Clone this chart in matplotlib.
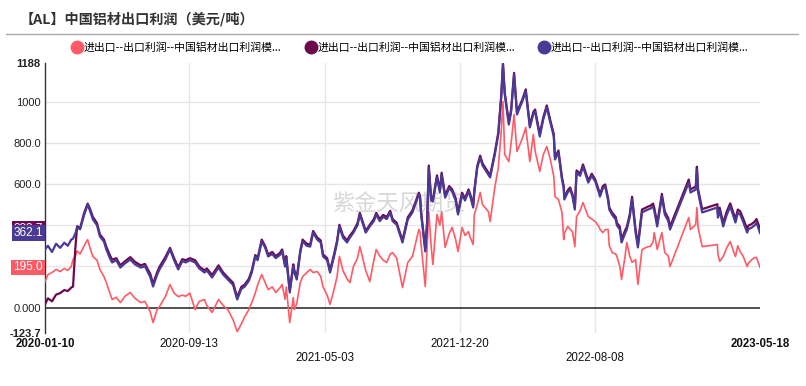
import matplotlib
matplotlib.use('Agg')
import matplotlib.pyplot as plt
from matplotlib.lines import Line2D
from datetime import datetime

plt.rcParams['font.family'] = ['Liberation Sans', 'Noto Sans CJK SC', 'DejaVu Sans']

# dates of the sampled points
dates = [
    '2020-01-10', '2020-01-15', '2020-01-22', '2020-01-29', '2020-02-05', '2020-02-12', '2020-02-18', '2020-02-24',
    '2020-02-27', '2020-03-02', '2020-03-05', '2020-03-10', '2020-03-17', '2020-03-23', '2020-03-27', '2020-04-01',
    '2020-04-08', '2020-04-13', '2020-04-20', '2020-04-24', '2020-04-30', '2020-05-04', '2020-05-11', '2020-05-18',
    '2020-05-26', '2020-06-04', '2020-06-12', '2020-06-22', '2020-06-29', '2020-07-08', '2020-07-13', '2020-07-20',
    '2020-07-24', '2020-08-03', '2020-08-11', '2020-08-18', '2020-08-25', '2020-09-01', '2020-09-07', '2020-09-14',
    '2020-09-23', '2020-09-30', '2020-10-09', '2020-10-13', '2020-10-22', '2020-11-02', '2020-11-10', '2020-11-18',
    '2020-11-27', '2020-12-04', '2020-12-11', '2020-12-17', '2020-12-24', '2020-12-29', '2021-01-04', '2021-01-08',
    '2021-01-15', '2021-01-21', '2021-01-26', '2021-02-02', '2021-02-08', '2021-02-15', '2021-02-19', '2021-02-24',
    '2021-02-26', '2021-03-04', '2021-03-10', '2021-03-12', '2021-03-16', '2021-03-22', '2021-03-26', '2021-04-02',
    '2021-04-08', '2021-04-13', '2021-04-20', '2021-04-26', '2021-04-30', '2021-05-07', '2021-05-12', '2021-05-19',
    '2021-05-24', '2021-05-28', '2021-06-03', '2021-06-10', '2021-06-15', '2021-06-21', '2021-06-28', '2021-07-02',
    '2021-07-12', '2021-07-19', '2021-07-26', '2021-07-30', '2021-08-05', '2021-08-11', '2021-08-17', '2021-08-23',
    '2021-08-27', '2021-09-03', '2021-09-13', '2021-09-22', '2021-09-30', '2021-10-11', '2021-10-13', '2021-10-15',
    '2021-10-22', '2021-10-25', '2021-10-28', '2021-11-01', '2021-11-04', '2021-11-11', '2021-11-16', '2021-11-19',
    '2021-11-25', '2021-12-02', '2021-12-07', '2021-12-13', '2021-12-17', '2021-12-24', '2021-12-29', '2022-01-04',
    '2022-01-07', '2022-01-12', '2022-01-14', '2022-01-19', '2022-01-24', '2022-01-28', '2022-02-07', '2022-02-10',
    '2022-02-15', '2022-02-18', '2022-02-24', '2022-03-01', '2022-03-04', '2022-03-07', '2022-03-14', '2022-03-18',
    '2022-03-23', '2022-03-28', '2022-04-06', '2022-04-12', '2022-04-19', '2022-04-25', '2022-04-28', '2022-05-06',
    '2022-05-12', '2022-05-18', '2022-05-24', '2022-05-30', '2022-06-01', '2022-06-07', '2022-06-13', '2022-06-16',
    '2022-06-17', '2022-06-23', '2022-06-27', '2022-07-01', '2022-07-05', '2022-07-08', '2022-07-14', '2022-07-19',
    '2022-07-28', '2022-08-03', '2022-08-09', '2022-08-15', '2022-08-17', '2022-08-22', '2022-08-26', '2022-08-31',
    '2022-09-02', '2022-09-07', '2022-09-13', '2022-09-15', '2022-09-20', '2022-09-23', '2022-09-29', '2022-10-02',
    '2022-10-07', '2022-10-11', '2022-10-17', '2022-10-21', '2022-10-28', '2022-11-07', '2022-11-11', '2022-11-16',
    '2022-11-18', '2022-11-23', '2022-12-01', '2022-12-06', '2022-12-12', '2022-12-15', '2023-01-16', '2023-01-19',
    '2023-01-28', '2023-01-30', '2023-02-01', '2023-02-08', '2023-03-06', '2023-03-07', '2023-03-10', '2023-03-16',
    '2023-03-22', '2023-03-28', '2023-04-03', '2023-04-06', '2023-04-10', '2023-04-14', '2023-04-19', '2023-04-26',
    '2023-04-28', '2023-05-04', '2023-05-09', '2023-05-12', '2023-05-18',
]

# series 3 (purple)
profit_c = [
    282, 300, 270, 310, 290, 315, 300, 330, 335, 360, 389, 380, 450, 500, 470, 428,
    400, 345, 320, 282, 240, 219, 230, 194, 215, 233, 210, 194, 200, 150, 102, 160,
    185, 233, 282, 230, 185, 225, 219, 230, 219, 190, 170, 180, 146, 194, 160, 136,
    110, 39, 90, 102, 130, 170, 248, 230, 321, 290, 248, 260, 240, 255, 272, 199,
    240, 73, 199, 170, 136, 267, 321, 300, 296, 364, 330, 316, 248, 230, 170, 250,
    316, 394, 340, 316, 340, 364, 400, 452, 364, 394, 420, 452, 420, 440, 430, 462,
    420, 403, 316, 428, 462, 549, 534, 450, 272, 400, 680, 520, 515, 632, 560, 646,
    534, 580, 564, 520, 452, 549, 520, 564, 540, 486, 560, 680, 729, 690, 646, 632,
    700, 743, 841, 1020, 1188, 1035, 889, 952, 1132, 938, 1001, 1050, 875, 940, 952, 831,
    914, 972, 900, 831, 719, 753, 622, 580, 525, 560, 573, 540, 476, 656, 640, 685,
    607, 640, 612, 560, 539, 580, 588, 520, 476, 450, 428, 400, 379, 316, 360, 379,
    440, 525, 364, 292, 462, 476, 480, 491, 470, 394, 539, 452, 420, 379, 607, 559,
    573, 671, 560, 462, 486, 437, 470, 394, 450, 491, 440, 413, 460, 452, 418, 364,
    380, 389, 400, 413, 362.1,
]

# series 2 (maroon)
profit_b = [
    15, 45, 30, 63, 70, 85, 80, 97, 102, 290, 395, 385, 460, 505, 480, 440,
    410, 355, 330, 295, 255, 232, 240, 205, 225, 245, 222, 205, 212, 165, 115, 172,
    198, 245, 290, 240, 195, 235, 230, 240, 230, 200, 180, 190, 158, 205, 170, 146,
    120, 50, 100, 112, 140, 180, 255, 240, 330, 298, 258, 270, 250, 265, 282, 210,
    250, 85, 210, 180, 146, 275, 330, 310, 306, 372, 340, 326, 258, 240, 180, 260,
    325, 402, 350, 326, 350, 372, 410, 460, 372, 402, 430, 460, 430, 450, 440, 470,
    430, 412, 326, 438, 472, 558, 543, 460, 285, 410, 690, 530, 525, 642, 570, 655,
    545, 590, 574, 530, 462, 558, 530, 574, 550, 496, 570, 688, 738, 700, 656, 642,
    710, 752, 850, 1030, 1180, 1045, 900, 962, 1140, 948, 1010, 1060, 885, 950, 962, 842,
    924, 982, 910, 842, 730, 763, 632, 590, 535, 570, 583, 550, 486, 666, 650, 695,
    617, 650, 622, 570, 549, 590, 598, 530, 486, 460, 440, 412, 392, 330, 374, 392,
    452, 538, 378, 306, 476, 490, 494, 505, 484, 408, 552, 466, 434, 393, 622, 574,
    588, 684, 575, 478, 502, 452, 485, 410, 466, 506, 456, 430, 476, 468, 434, 382,
    398, 406, 418, 430, 383.7,
]

# series 1 (red)
profit_a = [
    126, 160, 170, 185, 175, 190, 180, 200, 233, 250, 275, 260, 300, 330, 290, 248,
    230, 185, 150, 121, 70, 39, 50, 24, 55, 73, 45, 24, 30, -20, -73, -10,
    5, 53, 112, 70, 53, 60, 55, 70, -10, 30, 39, 10, -24, 39, 10, -10,
    -60, -117, -80, -44, -10, 24, 70, 110, 160, 120, 87, 100, 73, 95, 112, 40,
    100, -73, 49, -10, 20, 121, 150, 170, 185, 170, 175, 151, 100, 60, 15, 90,
    151, 248, 180, 140, 121, 200, 240, 296, 180, 126, 230, 282, 250, 230, 219, 260,
    267, 240, 97, 219, 248, 379, 369, 300, 102, 280, 466, 300, 209, 452, 400, 466,
    292, 360, 389, 330, 272, 389, 350, 369, 340, 306, 452, 500, 559, 500, 466, 418,
    520, 583, 680, 855, 1001, 743, 709, 800, 938, 758, 820, 875, 709, 841, 760, 661,
    743, 782, 720, 637, 539, 525, 462, 330, 360, 394, 380, 369, 296, 442, 470, 510,
    442, 430, 418, 394, 380, 364, 379, 379, 300, 267, 260, 248, 200, 136, 250, 316,
    250, 219, 233, 112, 282, 296, 296, 320, 364, 282, 364, 267, 250, 199, 437, 379,
    403, 486, 389, 296, 306, 260, 224, 248, 290, 321, 270, 248, 300, 272, 250, 199,
    215, 233, 243, 243, 195.0,
]

series_name = '进出口--出口利润--中国铝材出口利润模...'
colors = ['#ff5b66', '#6d0a4f', '#4a3a96']
badge_text = ['195.0', '383.7', '362.1']

x_ticks = ['2020-01-10', '2020-09-13', '2021-05-03', '2021-12-20', '2022-08-08', '2023-05-18']
y_ticks = [-123.7, 0, 200, 400, 600, 800, 1000, 1188]
y_labels = ['-123.7', '0.000', '200.0', '400.0', '600.0', '800.0', '1000', '1188']

x = [datetime.strptime(d, '%Y-%m-%d') for d in dates]

fig = plt.figure(figsize=(8.06, 3.86), dpi=100)
ax = fig.add_axes([45 / 806, 53 / 386, 715 / 806, 270 / 386])

ax.plot(x, profit_a, color=colors[0], lw=1.2, zorder=3)
ax.plot(x, profit_b, color=colors[1], lw=1.6, zorder=4)
ax.plot(x, profit_c, color=colors[2], lw=1.6, zorder=5)

ax.set_xlim(datetime(2020, 1, 10), datetime(2023, 5, 18))
ax.set_ylim(-123.7, 1188)

# grid
for v in [200, 400, 600, 800, 1000]:
    ax.axhline(v, color='#e6e6e6', lw=1, zorder=1)
for d in x_ticks[1:-1]:
    ax.axvline(datetime.strptime(d, '%Y-%m-%d'), color='#e6e6e6', lw=1, zorder=1)
ax.axhline(0, color='#333333', lw=1.2, zorder=2)

for s in ['top', 'right', 'bottom']:
    ax.spines[s].set_visible(False)
ax.spines['left'].set_color('#333333')
ax.spines['left'].set_linewidth(1)

ax.set_yticks(y_ticks)
ax.set_yticklabels(y_labels)
ax.tick_params(axis='y', length=0, pad=3, labelsize=8, labelcolor='#222222')
for lab in ax.get_yticklabels():
    if lab.get_text() in ('1188', '-123.7'):
        lab.set_fontweight('bold')

ax.set_xticks([])
for i, d in enumerate(x_ticks):
    yy = -0.093 if i in (2, 4) else -0.041
    bold = i in (0, len(x_ticks) - 1)
    ax.text(datetime.strptime(d, '%Y-%m-%d'), yy, d, transform=ax.get_xaxis_transform(),
            ha='center', va='center', fontsize=8.3, color='#111111',
            fontweight='bold' if bold else 'normal')

# value badges on the left
last_vals = [profit_a[-1], profit_b[-1], profit_c[-1]]
for i in [0, 1, 2]:
    ax.text(-0.003, last_vals[i], badge_text[i], transform=ax.get_yaxis_transform(),
            ha='right', va='center', fontsize=8.5, color='white', zorder=10 + i,
            bbox=dict(boxstyle='square,pad=0.15', fc=colors[i], ec='none'))

# watermark
ax.text(datetime(2021, 5, 15), 500, '紫金天风期货', fontsize=16, color='#d8d8d8',
        family=['Noto Sans CJK SC'], ha='left', va='center', zorder=2)

# title and separator
fig.text(20 / 806, 1 - 19 / 386, '【AL】中国铝材出口利润（美元/吨）', fontsize=10.2, fontweight='bold',
         color='#333333', family=['Noto Sans CJK SC'], va='center', ha='left')
fig.add_artist(Line2D([6 / 806, 798 / 806], [1 - 34 / 386, 1 - 34 / 386], color='#aaaaaa', lw=1))

# legend
handles = [Line2D([], [], marker='o', linestyle='none', markersize=9, color=c) for c in colors]
fig.legend(handles, [series_name] * 3, ncol=3, loc='center', bbox_to_anchor=(410 / 806, 1 - 48 / 386),
           frameon=False, prop={'family': ['Noto Sans CJK SC'], 'size': 7.8},
           handletextpad=0.1, columnspacing=2.2, handlelength=1.0)

fig.savefig('out.png', dpi=100)
